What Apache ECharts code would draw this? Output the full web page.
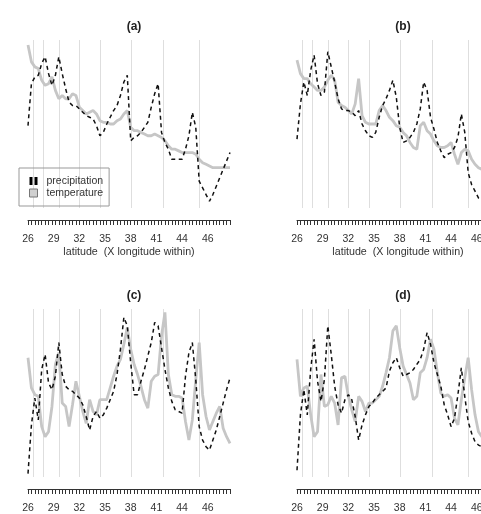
<!DOCTYPE html>
<html>
<head>
<meta charset="utf-8">
<script src="https://cdn.jsdelivr.net/npm/echarts/dist/echarts.min.js"></script>
<style>
html, body { margin: 0; padding: 0; background: #fff; }
#chart { width: 481px; height: 514px; }
</style>
</head>
<body>
<div id="chart"></div>
<script>
// tick labels of the latitude axis
var tickLabels = ['26', '29', '32', '35', '38', '41', '44', '46'];
// position (in point index) of the light vertical separators
var splitPos = [1.5, 4.4, 9.1, 14.9, 21, 30.1, 39.5, 50];

// (a)
var precipA = [49,74,78,79,86,90,80,73,79,90, 80,71,63,61,61,59,57,55,54,53, 49,43,45,50,54,58,61,67,75,79,
               40,42,43,45,48,51,60,68,74,45, 39,35,29,29,29,29,35,43,57,48, 16,12,8,4,8,13,18,23,28,33];
var tempA   = [97,87,84,83,76,73,74,78,70,65, 67,65,65,68,67,60,58,56,57,58, 56,52,51,51,50,50,52,53,56,58,
               48,46,46,45,44,43,43,44,43,42, 40,37,35,35,34,33,33,33,33,32, 29,27,26,25,24,24,24,24,24,24];
// (b)
var precipB = [41,62,75,67,82,91,74,67,69,93, 84,75,65,59,58,58,57,55,58,50, 46,43,42,45,54,61,65,70,76,66,
               48,39,40,42,45,50,59,75,70,54, 47,39,34,30,32,33,36,42,56,45, 21,14,10,6,4,2,5,8,11,14];
var tempB   = [88,80,77,77,74,72,70,70,72,76, 79,76,63,61,60,58,56,62,77,55, 51,50,50,50,58,61,58,54,52,49,
               48,45,43,39,36,35,49,51,46,44, 40,37,36,36,37,39,32,26,33,35, 34,29,26,24,23,23,22,23,24,25];
// (c)
var precipC = [2,31,47,34,64,73,56,52,60,80, 61,54,52,51,49,47,43,36,28,36, 39,35,37,41,46,51,61,76,95,90,
               68,49,49,57,64,72,80,92,90,77, 64,53,45,40,39,38,60,74,80,58, 30,22,18,16,22,28,36,44,52,59];
var tempC   = [71,53,49,48,30,24,27,42,67,74, 44,42,30,43,57,48,39,32,46,39, 37,46,46,46,53,60,66,70,79,89,
               76,67,61,54,46,41,57,60,61,84, 98,61,49,48,48,47,33,22,34,58, 80,49,36,28,33,38,42,29,24,20];
// (d)
var precipD = [4,37,52,37,64,82,57,45,58,90, 73,54,43,38,46,49,46,36,22,31, 37,42,44,47,49,51,53,63,68,71,
               65,60,61,62,64,67,70,76,86,79, 68,61,54,43,37,30,35,49,65,48, 33,26,21,19,18,20,23,27,30,34];
var tempD   = [70,48,53,54,37,24,27,61,42,43, 48,44,31,59,60,48,40,33,48,45, 39,44,44,46,48,54,62,71,87,90,
               77,66,61,56,46,48,62,64,71,82, 76,62,50,48,49,47,35,31,46,59, 71,52,37,27,24,22,23,26,28,29];

var panels = [
    { title: '(a)', left: 28,  top: 40,  precip: precipA, temp: tempA },
    { title: '(b)', left: 297, top: 40,  precip: precipB, temp: tempB },
    { title: '(c)', left: 28,  top: 309, precip: precipC, temp: tempC },
    { title: '(d)', left: 297, top: 309, precip: precipD, temp: tempD }
];

var chart = echarts.init(document.getElementById('chart'));
var grid = [], xAxis = [], yAxis = [], series = [], title = [];

panels.forEach(function (p, k) {
    // panels on the right run past the edge of the picture, as in the original
    grid.push({ left: p.left, top: p.top, width: 202, height: 168, outerBoundsMode: 'none', containLabel: false });
    title.push({
        text: p.title, left: p.left + 101, top: p.top - 24, textAlign: 'center',
        textStyle: { fontSize: 12, fontWeight: 'bold', color: '#222', fontFamily: 'Liberation Sans' }
    });
    // small ticks, one per point
    xAxis.push({
        type: 'value', gridIndex: k, position: 'bottom', offset: 12,
        min: 0, max: 59, interval: 1,
        axisLine: { show: true, onZero: false, lineStyle: { color: '#333', width: 1 } },
        axisTick: { show: true, length: 5, lineStyle: { color: '#333', width: 1 } },
        axisLabel: { show: false },
        splitLine: { show: false }
    });
    // latitude labels
    xAxis.push({
        type: 'value', gridIndex: k, position: 'bottom', offset: 12,
        min: 0, max: 59, interval: 7.5,
        axisLine: { show: false, onZero: false }, axisTick: { show: false }, splitLine: { show: false },
        axisLabel: {
            margin: 14, fontSize: 10.5, color: '#333', fontFamily: 'Liberation Sans',
            formatter: function (v) {
                var j = v / 7.5;
                return (j === Math.round(j) && tickLabels[j]) ? tickLabels[j] : '';
            }
        },
        name: 'latitude  (X longitude within)', nameLocation: 'middle', nameGap: 27,
        nameTextStyle: { fontSize: 10.7, color: '#333', fontFamily: 'Liberation Sans' }
    });
    yAxis.push({ type: 'value', gridIndex: k, min: 0, max: 100, show: false });

    series.push({
        name: 'temperature', type: 'line', xAxisIndex: 2 * k, yAxisIndex: k,
        data: p.temp.map(function (v, i) { return [i, v]; }),
        symbol: 'none', z: 2,
        lineStyle: { color: '#c6c6c6', width: 2.8 },
        markLine: {
            silent: true, symbol: 'none', z: 1, animation: false,
            label: { show: false },
            lineStyle: { color: '#dedede', width: 1, type: 'solid' },
            data: splitPos.map(function (x) { return { xAxis: x }; })
        }
    });
    series.push({
        name: 'precipitation', type: 'line', xAxisIndex: 2 * k, yAxisIndex: k,
        data: p.precip.map(function (v, i) { return [i, v]; }),
        symbol: 'none', z: 3,
        lineStyle: { color: '#111', width: 1.5, type: [4, 3.5] }
    });
});

var option = {
    animation: false,
    title: title,
    grid: grid,
    xAxis: xAxis,
    yAxis: yAxis,
    legend: {
        left: 19, top: 168, orient: 'vertical',
        padding: [7, 6, 7, 10], itemGap: 0, itemWidth: 8, itemHeight: 8,
        borderColor: '#999', borderWidth: 1,
        textStyle: { fontSize: 10.5, color: '#333', lineHeight: 12, fontFamily: 'Liberation Sans', padding: [0, 0, 0, 4] },
        data: [
            { name: 'precipitation', icon: 'path://M0,0H3V8H0Z M5,0H8V8H5Z', itemStyle: { color: '#000' } },
            { name: 'temperature', icon: 'rect', itemStyle: { color: '#d0d0d0', borderColor: '#777', borderWidth: 1 } }
        ]
    },
    series: series
};

option && chart.setOption(option);
</script>
</body>
</html>
